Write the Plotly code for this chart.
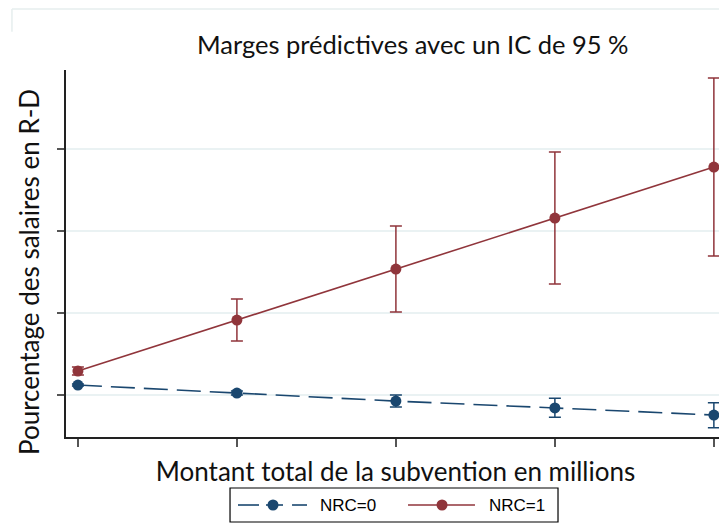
import plotly.graph_objects as go

# montant de la subvention (positions des marges)
montant = [0, 1, 2, 3, 4]

# NRC=0
marge_nrc0 = [5.61, 5.12, 4.63, 4.21, 3.78]
haut_nrc0 = [5.67, 5.24, 5.00, 4.80, 4.53]
bas_nrc0 = [5.55, 5.00, 4.27, 3.64, 3.01]

# NRC=1
marge_nrc1 = [6.46, 9.57, 12.68, 15.79, 18.90]
haut_nrc1 = [6.71, 10.85, 15.30, 19.82, 24.33]
bas_nrc1 = [6.22, 8.29, 10.06, 11.77, 13.48]

noms = ['NRC=0', 'NRC=1']
bleu = '#1a476f'
rouge = '#90353b'

fig = go.Figure()

fig.add_trace(go.Scatter(
    x=montant, y=marge_nrc0, name=noms[0], mode='lines+markers',
    line=dict(color=bleu, width=1.6, dash='24px,9px'),
    marker=dict(color=bleu, size=11),
    error_y=dict(type='data', symmetric=False,
                 array=[h - m for h, m in zip(haut_nrc0, marge_nrc0)],
                 arrayminus=[m - b for m, b in zip(marge_nrc0, bas_nrc0)],
                 color=bleu, thickness=1.5, width=6)))

fig.add_trace(go.Scatter(
    x=montant, y=marge_nrc1, name=noms[1], mode='lines+markers',
    line=dict(color=rouge, width=1.6),
    marker=dict(color=rouge, size=11),
    error_y=dict(type='data', symmetric=False,
                 array=[h - m for h, m in zip(haut_nrc1, marge_nrc1)],
                 arrayminus=[m - b for m, b in zip(marge_nrc1, bas_nrc1)],
                 color=rouge, thickness=1.5, width=6)))

# cadre pâle autour du graphique
fig.add_shape(type='line', xref='paper', yref='paper', x0=-0.082, x1=1.01,
              y0=1.166, y1=1.166, line=dict(color='#e6eeee', width=1.5))
fig.add_shape(type='line', xref='paper', yref='paper', x0=-0.082, x1=-0.082,
              y0=1.166, y1=1.104, line=dict(color='#e6eeee', width=1.5))

# légende façon Stata (cadre, traits longs)
ly = -0.1853
fig.add_shape(type='rect', xref='paper', yref='paper', x0=0.2489, x1=0.7466,
              y0=-0.2316, y1=-0.139, line=dict(color='black', width=1.2),
              fillcolor='white')
for a, b in [(0.261, 0.2929), (0.3035, 0.3293), (0.3430, 0.3657)]:
    fig.add_shape(type='line', xref='paper', yref='paper', x0=a, x1=b, y0=ly, y1=ly,
                  line=dict(color=bleu, width=1.6))
fig.add_shape(type='line', xref='paper', yref='paper', x0=0.519, x1=0.6206,
              y0=ly, y1=ly, line=dict(color=rouge, width=1.6))
for cx, col in [(0.3141, bleu), (0.5706, rouge)]:
    fig.add_shape(type='circle', xref='paper', yref='paper', xsizemode='pixel',
                  ysizemode='pixel', xanchor=cx, yanchor=ly, x0=-5.5, x1=5.5,
                  y0=-5.5, y1=5.5, fillcolor=col, line=dict(color=col, width=0))
for tx, nom in [(0.3824, noms[0]), (0.6388, noms[1])]:
    fig.add_annotation(x=tx, y=ly, xref='paper', yref='paper', text=nom,
                       showarrow=False, xanchor='left', yanchor='middle',
                       font=dict(family='Liberation Sans, Arial', size=17, color='black'))

# titre de l'axe des y, un peu plus bas que le centre
fig.add_annotation(x=-0.0561, y=0.4496, xref='paper', yref='paper',
                   text='Pourcentage des salaires en R-D', textangle=-90,
                   showarrow=False, xanchor='center', yanchor='middle',
                   font=dict(size=26, color='#111'))

# la page ajoute une marge de 8 px autour de la figure
fig.update_layout(
    width=719, height=522,
    margin=dict(l=58, r=2, t=62, b=93, autoexpand=False),
    paper_bgcolor='white', plot_bgcolor='white',
    font=dict(family='Lato, sans-serif', color='black'),
    title=dict(text='Marges prédictives avec un IC de 95 %', x=0.563, xanchor='center',
               y=0.929, yanchor='middle', font=dict(size=25.5, color='#111')),
    showlegend=False,
)

fig.update_xaxes(
    range=[-0.075, 4.07], tickvals=montant, showticklabels=False,
    ticks='outside', ticklen=8, tickcolor='#555', tickwidth=1.5,
    showline=True, linecolor='#222', linewidth=1.5, showgrid=False, zeroline=False,
    title=dict(text='Montant total de la subvention en millions',
               font=dict(size=26, color='#111'), standoff=17))

fig.update_yaxes(
    range=[2.44, 24.82], tickvals=[5, 10, 15, 20], showticklabels=False,
    ticks='outside', ticklen=7, tickcolor='#555', tickwidth=1.5,
    showline=True, linecolor='#222', linewidth=1.5,
    showgrid=True, gridcolor='#eaf2f3', gridwidth=1.5, zeroline=False)

fig.write_html("out.html")
